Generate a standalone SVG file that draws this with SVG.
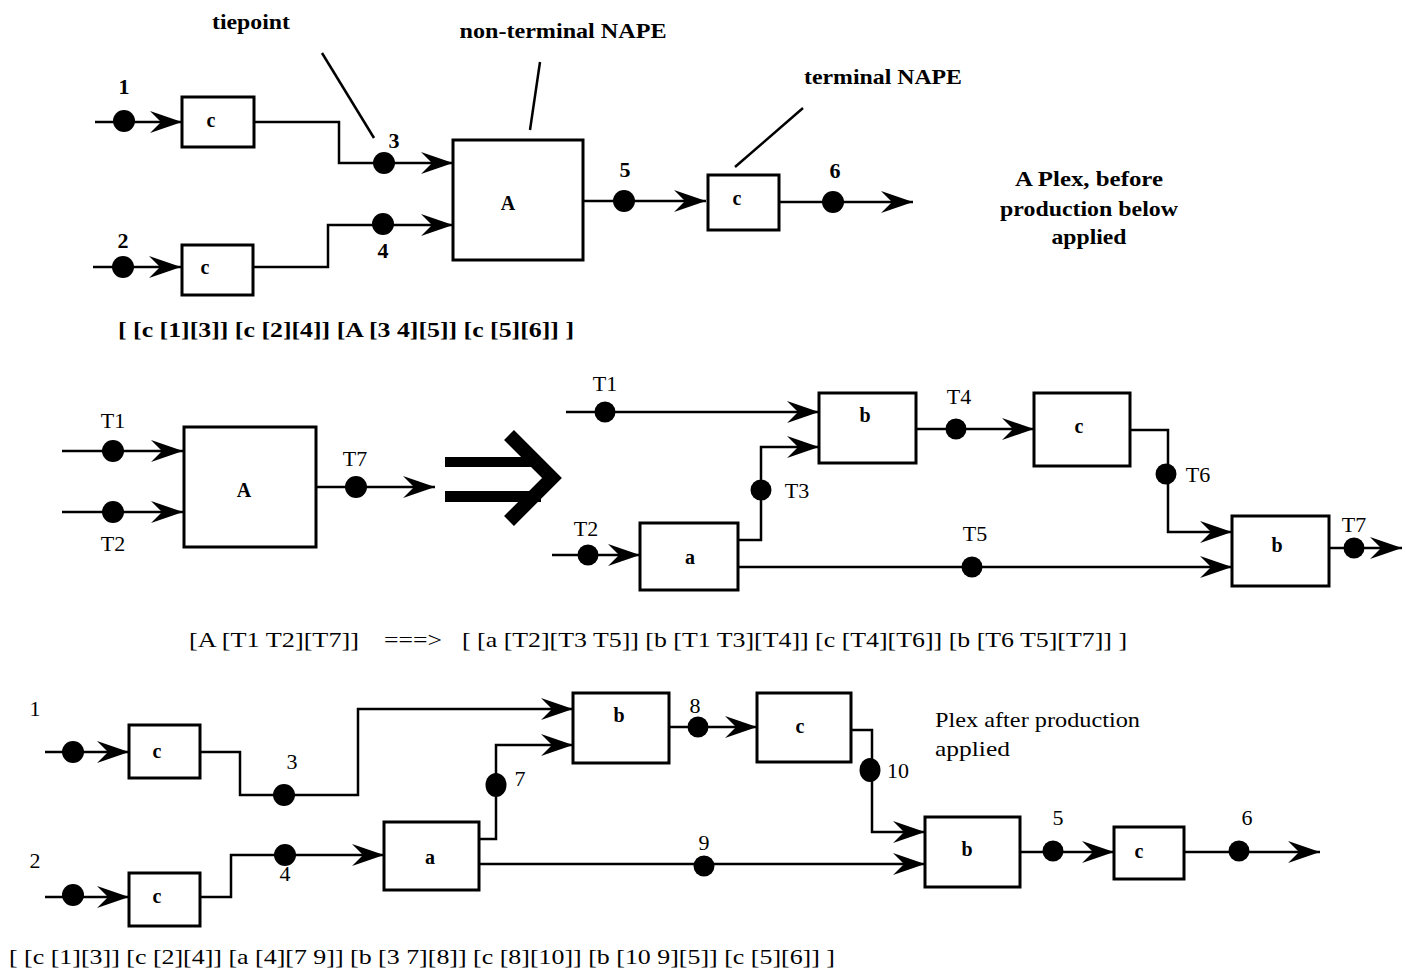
<svg xmlns="http://www.w3.org/2000/svg" width="1406" height="972" viewBox="0 0 1406 972">
<style>
text{font-family:"Liberation Serif","Times New Roman",serif;fill:#000}
.lbl{font-size:22px;text-anchor:middle;dominant-baseline:central}
.b{font-weight:bold}
.box{fill:#fff;stroke:#000;stroke-width:3}
.bl{font-size:20px;font-weight:bold;text-anchor:middle;dominant-baseline:central}
.w{fill:none;stroke:#000;stroke-width:2.5}
.a{marker-end:url(#ah)}
.dot{fill:#000}
.f{font-size:21px;dominant-baseline:central}
</style>
<defs>
<marker id="ah" markerUnits="userSpaceOnUse" markerWidth="34" markerHeight="26" viewBox="-33 -13 34 26" refX="0" refY="0" orient="auto">
<path d="M0,0 L-32,-11 L-21,0 L-32,11 Z" fill="#000"/>
</marker>
</defs>

<g id="connectors">
<!-- top -->
<path class="w a" d="M95,122 H182"/>
<path class="w a" d="M93,267 H181"/>
<path class="w a" d="M254,122 H339 V163 H453"/>
<path class="w a" d="M253,267 H328 V225 H453"/>
<path class="w a" d="M583,201 H706"/>
<path class="w a" d="M779,202 H913"/>
<path class="w" d="M322,53 L374,138"/>
<path class="w" d="M540,62 L530,130"/>
<path class="w" d="M803,108 L735,167"/>
<!-- middle left -->
<path class="w a" d="M62,451 H183"/>
<path class="w a" d="M62,512 H183"/>
<path class="w a" d="M316,487 H435"/>
<!-- middle right -->
<path class="w a" d="M566,412 H819"/>
<path class="w a" d="M738,540 H761 V447 H819"/>
<path class="w a" d="M916,429 H1034"/>
<path class="w a" d="M1130,430 H1168 V532 H1232"/>
<path class="w a" d="M1329,548 H1402"/>
<path class="w a" d="M552,555 H640"/>
<path class="w a" d="M738,567 H1232"/>
<!-- bottom -->
<path class="w a" d="M45,752 H129"/>
<path class="w a" d="M45,897 H129"/>
<path class="w a" d="M200,752 H240 V795 H358 V709 H573"/>
<path class="w a" d="M200,897 H231 V855 H384"/>
<path class="w a" d="M479,839 H496 V745 H573"/>
<path class="w a" d="M479,864 H925"/>
<path class="w a" d="M669,727 H757"/>
<path class="w a" d="M851,730 H872 V832 H925"/>
<path class="w a" d="M1020,852 H1114"/>
<path class="w a" d="M1184,852 H1320"/>
</g>

<g id="implies">
<rect x="445" y="457" width="96" height="10"/>
<rect x="445" y="491" width="96" height="11"/>
<polyline points="509,435 552,478 509,521" fill="none" stroke="#000" stroke-width="14"/>
</g>

<!-- top section nodes -->
<g id="top-c1"><rect class="box" x="182" y="97" width="72" height="50"/><text class="bl" x="211" y="120">c</text></g>
<g id="top-c2"><rect class="box" x="182" y="245" width="71" height="50"/><text class="bl" x="205" y="267">c</text></g>
<g id="top-A"><rect class="box" x="453" y="140" width="130" height="120"/><text class="bl" x="508" y="203">A</text></g>
<g id="top-c3"><rect class="box" x="708" y="175" width="71" height="55"/><text class="bl" x="737" y="198">c</text></g>
<g id="top-tp1"><circle class="dot" cx="124" cy="121" r="11"/><text class="lbl b" x="124" y="86">1</text></g>
<g id="top-tp2"><circle class="dot" cx="123" cy="267" r="11"/><text class="lbl b" x="123" y="240">2</text></g>
<g id="top-tp3"><circle class="dot" cx="384" cy="163" r="11"/><text class="lbl b" x="394" y="140">3</text></g>
<g id="top-tp4"><circle class="dot" cx="383" cy="224" r="11"/><text class="lbl b" x="383" y="250">4</text></g>
<g id="top-tp5"><circle class="dot" cx="624" cy="201" r="11"/><text class="lbl b" x="625" y="169">5</text></g>
<g id="top-tp6"><circle class="dot" cx="833" cy="202" r="11"/><text class="lbl b" x="835" y="170">6</text></g>
<g id="top-notes">
<text class="lbl b" x="251" y="21" textLength="78" lengthAdjust="spacingAndGlyphs">tiepoint</text>
<text class="lbl b" x="563" y="30" textLength="207" lengthAdjust="spacingAndGlyphs">non-terminal NAPE</text>
<text class="lbl b" x="883" y="76" textLength="158" lengthAdjust="spacingAndGlyphs">terminal NAPE</text>
<text class="lbl b" x="1089" y="178" textLength="148" lengthAdjust="spacingAndGlyphs">A Plex, before</text>
<text class="lbl b" x="1089" y="208" textLength="178" lengthAdjust="spacingAndGlyphs">production below</text>
<text class="lbl b" x="1089" y="236" textLength="75" lengthAdjust="spacingAndGlyphs">applied</text>
<text class="f b" x="118" y="330" textLength="456" lengthAdjust="spacingAndGlyphs">[ [c [1][3]] [c [2][4]] [A [3 4][5]] [c [5][6]] ]</text>
</g>

<!-- middle left -->
<g id="mid-A"><rect class="box" x="184" y="427" width="132" height="120"/><text class="bl" x="244" y="490">A</text></g>
<g id="mid-T1"><circle class="dot" cx="113" cy="451" r="11"/><text class="lbl" x="113" y="420">T1</text></g>
<g id="mid-T2"><circle class="dot" cx="113" cy="512" r="11"/><text class="lbl" x="113" y="543">T2</text></g>
<g id="mid-T7"><circle class="dot" cx="356" cy="487" r="11"/><text class="lbl" x="355" y="458">T7</text></g>

<!-- middle right -->
<g id="mr-b1"><rect class="box" x="819" y="393" width="97" height="70"/><text class="bl" x="865" y="415">b</text></g>
<g id="mr-c"><rect class="box" x="1034" y="393" width="96" height="73"/><text class="bl" x="1079" y="426">c</text></g>
<g id="mr-a"><rect class="box" x="640" y="523" width="98" height="67"/><text class="bl" x="690" y="557">a</text></g>
<g id="mr-b2"><rect class="box" x="1232" y="516" width="97" height="70"/><text class="bl" x="1277" y="545">b</text></g>
<g id="mr-T1"><circle class="dot" cx="605" cy="412" r="10.5"/><text class="lbl" x="605" y="383">T1</text></g>
<g id="mr-T3"><circle class="dot" cx="761" cy="490" r="10.5"/><text class="lbl" x="797" y="490">T3</text></g>
<g id="mr-T4"><circle class="dot" cx="956" cy="429" r="10.5"/><text class="lbl" x="959" y="396">T4</text></g>
<g id="mr-T6"><circle class="dot" cx="1166" cy="474" r="10.5"/><text class="lbl" x="1198" y="474">T6</text></g>
<g id="mr-T2"><circle class="dot" cx="588" cy="555" r="10.5"/><text class="lbl" x="586" y="528">T2</text></g>
<g id="mr-T5"><circle class="dot" cx="972" cy="567" r="10.5"/><text class="lbl" x="975" y="533">T5</text></g>
<g id="mr-T7"><circle class="dot" cx="1354" cy="548" r="10.5"/><text class="lbl" x="1354" y="524">T7</text></g>
<g id="production">
<text class="f" x="189" y="640" textLength="170" lengthAdjust="spacingAndGlyphs">[A [T1 T2][T7]]</text>
<text class="f" x="384" y="640" font-size="14" textLength="58" lengthAdjust="spacingAndGlyphs">===&gt;</text>
<text class="f" x="462" y="640" textLength="665" lengthAdjust="spacingAndGlyphs">[ [a [T2][T3 T5]] [b [T1 T3][T4]] [c [T4][T6]] [b [T6 T5][T7]] ]</text>
</g>

<!-- bottom -->
<g id="bot-c1"><rect class="box" x="129" y="725" width="71" height="53"/><text class="bl" x="157" y="751">c</text></g>
<g id="bot-c2"><rect class="box" x="129" y="873" width="71" height="53"/><text class="bl" x="157" y="896">c</text></g>
<g id="bot-a"><rect class="box" x="384" y="822" width="95" height="68"/><text class="bl" x="430" y="857">a</text></g>
<g id="bot-b1"><rect class="box" x="573" y="693" width="96" height="70"/><text class="bl" x="619" y="715">b</text></g>
<g id="bot-c3"><rect class="box" x="757" y="693" width="94" height="69"/><text class="bl" x="800" y="726">c</text></g>
<g id="bot-b2"><rect class="box" x="925" y="817" width="95" height="70"/><text class="bl" x="967" y="849">b</text></g>
<g id="bot-c4"><rect class="box" x="1114" y="827" width="70" height="52"/><text class="bl" x="1139" y="851">c</text></g>
<g id="bot-tp1"><circle class="dot" cx="73" cy="752" r="11"/><text class="lbl" x="35" y="708">1</text></g>
<g id="bot-tp2"><circle class="dot" cx="73" cy="895" r="11"/><text class="lbl" x="35" y="860">2</text></g>
<g id="bot-tp3"><circle class="dot" cx="284" cy="795" r="11"/><text class="lbl" x="292" y="761">3</text></g>
<g id="bot-tp4"><circle class="dot" cx="285" cy="855" r="11"/><text class="lbl" x="285" y="873">4</text></g>
<g id="bot-tp7"><ellipse class="dot" cx="496" cy="785" rx="10.5" ry="12"/><text class="lbl" x="520" y="778">7</text></g>
<g id="bot-tp8"><circle class="dot" cx="698" cy="727" r="10.5"/><text class="lbl" x="695" y="705">8</text></g>
<g id="bot-tp9"><circle class="dot" cx="704" cy="866" r="10.5"/><text class="lbl" x="704" y="842">9</text></g>
<g id="bot-tp10"><ellipse class="dot" cx="870" cy="770" rx="10.5" ry="12"/><text class="lbl" x="898" y="770">10</text></g>
<g id="bot-tp5"><circle class="dot" cx="1053" cy="851" r="10.5"/><text class="lbl" x="1058" y="817">5</text></g>
<g id="bot-tp6"><circle class="dot" cx="1239" cy="851" r="10.5"/><text class="lbl" x="1247" y="817">6</text></g>
<g id="bot-notes">
<text class="f" x="935" y="720" textLength="205" lengthAdjust="spacingAndGlyphs">Plex after production</text>
<text class="f" x="935" y="749" textLength="75" lengthAdjust="spacingAndGlyphs">applied</text>
<text class="f" x="9" y="957" textLength="826" lengthAdjust="spacingAndGlyphs">[ [c [1][3]] [c [2][4]] [a [4][7 9]] [b [3 7][8]] [c [8][10]] [b [10 9][5]] [c [5][6]] ]</text>
</g>
</svg>
